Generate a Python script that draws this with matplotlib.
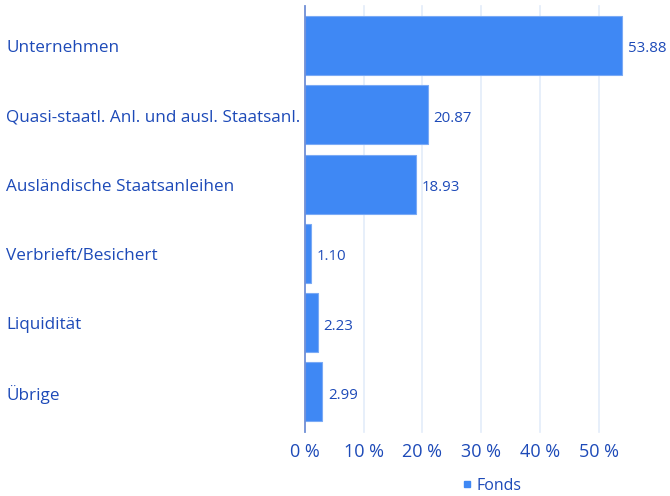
import matplotlib
matplotlib.use("Agg")
import matplotlib.pyplot as plt
from matplotlib.lines import Line2D

categories = ["Unternehmen", "Quasi-staatl. Anl. und ausl. Staatsanl.", "Ausländische Staatsanleihen",
              "Verbrieft/Besichert", "Liquidität", "Übrige"]
values = [53.88, 20.87, 18.93, 1.10, 2.23, 2.99]
xticks = [0, 10, 20, 30, 40, 50]
xtick_labels = ["0 %", "10 %", "20 %", "30 %", "40 %", "50 %"]
series_name = "Fonds"

plt.rcParams['font.family'] = ['Open Sans', 'DejaVu Sans']
txt = "#1d4ab8"
bar_c = "#3f88f4"

fig = plt.figure(figsize=(6.7, 4.96), dpi=100)
W, H = 670, 496
left, right = 304.7, 658
top, bottom = 10.8, 426.6
ax = fig.add_axes([left / W, 1 - bottom / H, (right - left) / W, (bottom - top) / H])

y = list(range(len(categories)))
ax.barh(y, values, height=0.85, color=bar_c, edgecolor="#7aaaf5", linewidth=0.8, zorder=3)
ax.set_ylim(len(categories) - 0.5, -0.5)
ax.set_xlim(0, 60)
ax.set_xticks(xticks)
ax.set_xticklabels(xtick_labels, color=txt, fontsize=13)
ax.tick_params(axis='x', length=0, pad=12)
ax.set_yticks([])
for s in ax.spines.values():
    s.set_visible(False)
for t in xticks[1:]:
    ax.axvline(t, color="#e3ecfa", lw=1.2, zorder=1, ymin=-0.014, ymax=1.012, clip_on=False)
ax.axvline(0, color="#6f8fd6", lw=1.3, zorder=4, ymin=-0.014, ymax=1.012, clip_on=False)

for yi, v in zip(y, values):
    ax.text(v + 1.0, yi + 0.05, f"{v:.2f}", va="center", ha="left", color=txt, fontsize=10.8, zorder=5)
for yi, c in zip(y, categories):
    ax.text(6 / W, 1 - (top + 2.5 + (yi + 0.5) * (bottom - top) / 6) / H, c, transform=fig.transFigure,
            va="center", ha="left", color=txt, fontsize=12.3)

fig.legend(handles=[Line2D([], [], marker='s', color=bar_c, linestyle='None', markersize=4)],
           labels=[series_name], loc="center", bbox_to_anchor=(490 / W, 1 - 486 / H),
           frameon=False, fontsize=11.5, labelcolor=txt, handletextpad=0.1, handlelength=1)

fig.savefig("out.png", dpi=100)
